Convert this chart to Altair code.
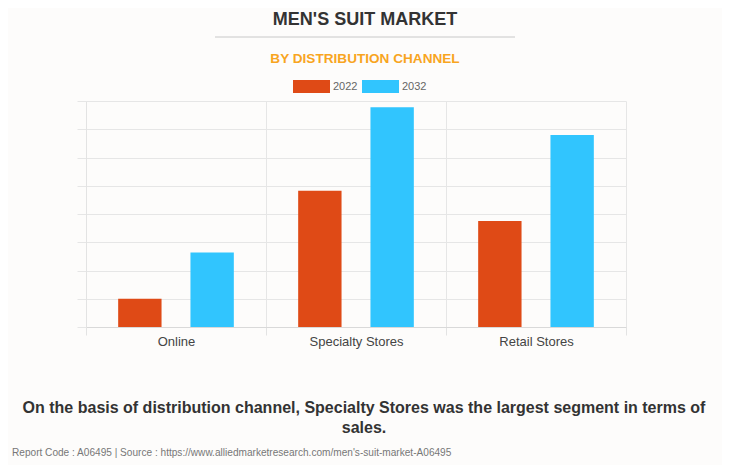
import altair as alt
import pandas as pd

channels = ["Online", "Specialty Stores", "Retail Stores"]
years = ["2022", "2032"]
values_2022 = [1.0, 4.82, 3.75]
values_2032 = [2.64, 7.78, 6.8]
colors = ["#df4a16", "#31c5fe"]

title_text = "MEN'S SUIT MARKET"
subtitle_text = "BY DISTRIBUTION CHANNEL"
note_line1 = "On the basis of distribution channel, Specialty Stores was the largest segment in terms of"
note_line2 = "sales."
footer_text = "Report Code : A06495  |  Source : https://www.alliedmarketresearch.com/men's-suit-market-A06495"

rows = []
for c, a, b in zip(channels, values_2022, values_2032):
    rows.append({"channel": c, "year": years[0], "value": a})
    rows.append({"channel": c, "year": years[1], "value": b})
df = pd.DataFrame(rows)

FONT = "Liberation Sans"
W, H = 540, 226

bars = alt.Chart(df).mark_bar().encode(
    x=alt.X("channel:N", sort=channels,
            scale=alt.Scale(paddingInner=0, paddingOuter=0),
            axis=alt.Axis(title=None, labelAngle=0, labelFontSize=13, labelColor="#444",
                          labelFont=FONT, labelPadding=0, tickSize=8, tickColor="#e3e3e3",
                          grid=True, gridColor="#e6e6e6", bandPosition=0,
                          domainColor="#d9d9d9", tickBand="extent")),
    xOffset=alt.XOffset("year:N", sort=years,
                        scale=alt.Scale(paddingInner=0.4, paddingOuter=0.445)),
    y=alt.Y("value:Q", scale=alt.Scale(domain=[0, 8], nice=False),
            axis=alt.Axis(title=None, labels=False, values=list(range(9)), tickSize=9,
                          tickColor="#e6e6e6", gridColor="#e6e6e6", domainColor="#e3e3e3")),
    color=alt.Color("year:N", sort=years, scale=alt.Scale(domain=years, range=colors),
                    legend=alt.Legend(title=None, orient="none", legendX=207, legendY=-33,
                                      direction="horizontal",
                                      symbolType="M-1,-0.35L1,-0.35L1,0.35L-1,0.35Z",
                                      symbolSize=1369, symbolStrokeWidth=0,
                                      labelFontSize=11, labelColor="#666", labelFont=FONT,
                                      labelOffset=3, columnPadding=4, symbolOpacity=1)),
)

one = pd.DataFrame({"t": [0]})

title = alt.Chart(one).mark_text(text=title_text, font=FONT, fontSize=18, fontWeight="bold",
                                 color="#333", align="center", baseline="middle").encode(
    x=alt.value(279), y=alt.value(-81))
rule = alt.Chart(one).mark_rule(color="#c8c8c8", strokeWidth=1).encode(
    x=alt.value(129), x2=alt.value(429), y=alt.value(-64))
subtitle = alt.Chart(one).mark_text(text=subtitle_text, font=FONT, fontSize=13.6, fontWeight="bold",
                                    color="#f8a51f", align="center", baseline="middle").encode(
    x=alt.value(279), y=alt.value(-42))
note1 = alt.Chart(one).mark_text(text=note_line1, font=FONT, fontSize=16, fontWeight="bold",
                                 color="#333", align="center", baseline="middle").encode(
    x=alt.value(278), y=alt.value(307))
note2 = alt.Chart(one).mark_text(text=note_line2, font=FONT, fontSize=16, fontWeight="bold",
                                 color="#333", align="center", baseline="middle").encode(
    x=alt.value(278), y=alt.value(327))
footer = alt.Chart(one).mark_text(text=footer_text, font=FONT, fontSize=10.1,
                                  color="#777", align="left", baseline="middle").encode(
    x=alt.value(-74), y=alt.value(352))

chart = alt.layer(bars, title, rule, subtitle, note1, note2, footer).properties(
    width=W, height=H,
    autosize=alt.AutoSizeParams(type="none"),
    padding={"left": 78, "top": 93, "right": 96, "bottom": 138},
    background="#fdfcfb",
).configure_view(stroke=None)

chart.save("out.html", embed_options={"renderer": "svg", "actions": False})
